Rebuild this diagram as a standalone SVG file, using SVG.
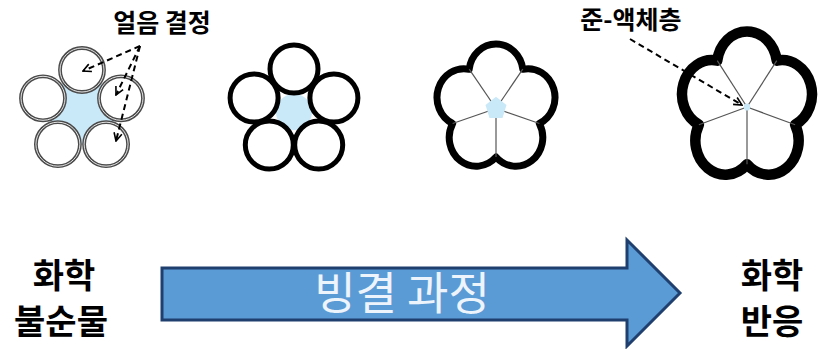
<svg xmlns="http://www.w3.org/2000/svg" width="818" height="349" viewBox="0 0 818 349">
  <defs>
    <marker id="openhead" viewBox="0 0 10 10" refX="9" refY="5" markerWidth="5" markerHeight="5" orient="auto" markerUnits="strokeWidth">
      <path d="M1,1 L9,5 L1,9" fill="none" stroke="#000" stroke-width="1.6"/>
    </marker>
  </defs>
  <style>
    .label { font-family: "Noto Sans CJK KR", "Noto Sans", sans-serif; font-weight: 700; fill: #000; text-anchor: middle; }
    .side { font-size: 34px; }
    .top { font-size: 25px; }
    .flow { font-family: "Noto Sans CJK KR", "Noto Sans", sans-serif; font-weight: 400; font-size: 45px; fill: #eef4fb; text-anchor: middle; }
    .liquid { fill: #c9e8f8; }
    .crystal1 { fill: #fff; stroke: #4a4a4a; stroke-width: 3.8; }
    .crystal1-inner { fill: none; stroke: #fff; stroke-width: 1; opacity: 0.85; }
    .crystal2 { fill: #fff; stroke: #000; stroke-width: 5; }
    .grain { stroke: #555; stroke-width: 1.2; fill: none; }
    .callout { fill: none; stroke: #000; stroke-width: 2; stroke-dasharray: 6 4; }
  </style>

  <rect width="818" height="349" fill="#fff"/>

  <!-- stage 1: separate ice crystals around a liquid pocket -->
  <g id="stage1">
    <polygon class="liquid" points="82,70 121,98.3 106.1,144.2 57.9,144.2 43,98.3"/>
    <circle class="crystal1" cx="82" cy="70" r="22"/>
    <circle class="crystal1" cx="121" cy="98.3" r="22"/>
    <circle class="crystal1" cx="106.1" cy="144.2" r="22"/>
    <circle class="crystal1" cx="57.9" cy="144.2" r="22"/>
    <circle class="crystal1" cx="43" cy="98.3" r="22"/>
    <circle class="crystal1-inner" cx="82" cy="70" r="22"/>
    <circle class="crystal1-inner" cx="121" cy="98.3" r="22"/>
    <circle class="crystal1-inner" cx="106.1" cy="144.2" r="22"/>
    <circle class="crystal1-inner" cx="57.9" cy="144.2" r="22"/>
    <circle class="crystal1-inner" cx="43" cy="98.3" r="22"/>
  </g>

  <!-- stage 2: crystals touching, smaller pocket -->
  <g id="stage2">
    <circle class="liquid" cx="294" cy="112" r="18"/>
    <circle class="crystal2" cx="294" cy="69" r="24"/>
    <circle class="crystal2" cx="333.9" cy="98" r="24"/>
    <circle class="crystal2" cx="318.7" cy="145" r="24"/>
    <circle class="crystal2" cx="269.3" cy="145" r="24"/>
    <circle class="crystal2" cx="254.1" cy="98" r="24"/>
  </g>

  <!-- stage 3: merged grains with a small central pocket -->
  <g id="stage3" transform="translate(496,108.5) scale(1,1.065)">
    <path d="M-26.8,-36.89 A27,27 0 0 1 26.8,-36.89 A27,27 0 0 1 43.37,14.09 A27,27 0 0 1 0,45.6 A27,27 0 0 1 -43.37,14.09 A27,27 0 0 1 -26.8,-36.89 Z"
          fill="#fff" stroke="#000" stroke-width="7" stroke-linejoin="round" vector-effect="non-scaling-stroke"/>
    <g class="grain">
      <line x1="0" y1="0" x2="-26.8" y2="-36.89" vector-effect="non-scaling-stroke"/>
      <line x1="0" y1="0" x2="26.8" y2="-36.89" vector-effect="non-scaling-stroke"/>
      <line x1="0" y1="0" x2="43.37" y2="14.09" vector-effect="non-scaling-stroke"/>
      <line x1="0" y1="0" x2="0" y2="45.6" vector-effect="non-scaling-stroke"/>
      <line x1="0" y1="0" x2="-43.37" y2="14.09" vector-effect="non-scaling-stroke"/>
    </g>
    <polygon class="liquid" points="0,-11 10.5,-3.4 6.5,8.9 -6.5,8.9 -10.5,-3.4"/>
  </g>

  <!-- stage 4: fully frozen grains, quasi-liquid layer at the junction -->
  <g id="stage4" transform="translate(747,107) scale(0.91,1.03)">
    <path d="M-32.68,-44.98 A33,33 0 0 1 32.68,-44.98 A33,33 0 0 1 52.88,17.18 A33,33 0 0 1 0,55.6 A33,33 0 0 1 -52.88,17.18 A33,33 0 0 1 -32.68,-44.98 Z"
          fill="#fff" stroke="#000" stroke-width="10.5" stroke-linejoin="round" vector-effect="non-scaling-stroke"/>
    <g class="grain">
      <line x1="0" y1="0" x2="-32.68" y2="-44.98" vector-effect="non-scaling-stroke"/>
      <line x1="0" y1="0" x2="32.68" y2="-44.98" vector-effect="non-scaling-stroke"/>
      <line x1="0" y1="0" x2="52.88" y2="17.18" vector-effect="non-scaling-stroke"/>
      <line x1="0" y1="0" x2="0" y2="55.6" vector-effect="non-scaling-stroke"/>
      <line x1="0" y1="0" x2="-52.88" y2="17.18" vector-effect="non-scaling-stroke"/>
    </g>
    <circle class="liquid" cx="0" cy="0" r="3.5"/>
  </g>

  <!-- labels -->
  <g id="label-ice">
    <text class="label top" x="162" y="32">얼음 결정</text>
  </g>
  <g id="label-qll">
    <text class="label top" x="631" y="29">준-액체층</text>
  </g>

  <!-- callout connectors -->
  <g id="connectors">
    <line class="callout" x1="140" y1="46" x2="83" y2="71" marker-end="url(#openhead)"/>
    <line class="callout" x1="140" y1="46" x2="116" y2="95" marker-end="url(#openhead)"/>
    <line class="callout" x1="140" y1="46" x2="116" y2="141" marker-end="url(#openhead)"/>
    <line class="callout" x1="630" y1="39" x2="742" y2="105" marker-end="url(#openhead)"/>
  </g>

  <!-- process arrow -->
  <g id="process">
    <polygon points="162,268 627,268 627,240 680,293 627,346 627,320 162,320"
             fill="#5b9bd5" stroke="#1f3f6e" stroke-width="3" stroke-linejoin="miter"/>
    <text class="flow" x="402" y="310">빙결 과정</text>
  </g>

  <g id="before">
    <text class="label side" x="64" y="288">화학</text>
    <text class="label side" x="61" y="334">불순물</text>
  </g>
  <g id="after">
    <text class="label side" x="772" y="288">화학</text>
    <text class="label side" x="772" y="334">반응</text>
  </g>
</svg>
